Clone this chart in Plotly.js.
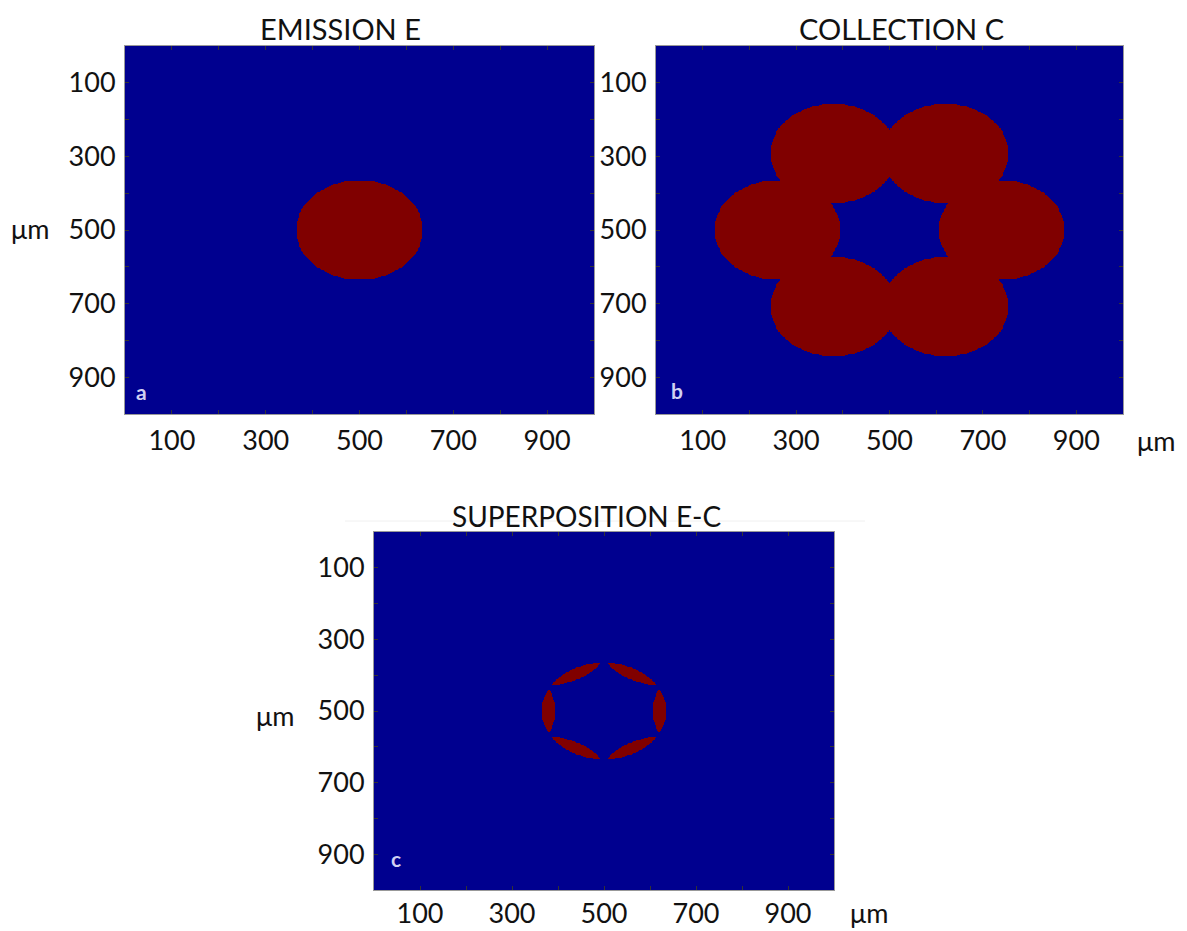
<!DOCTYPE html>
<html>
<head>
<meta charset="utf-8">
<script src="https://cdn.plot.ly/plotly-3.0.1.min.js"></script>
<style>html,body{margin:0;padding:0;background:#fff;}#chart{width:1187px;height:931px;}</style>
</head>
<body>
<div id="chart"></div>
<script>
// ---- data (µm) ----
const emitterX = [500];
const emitterY = [500];
const emitterR = 135;
const collectorX = [740, 620, 380, 260, 380, 620];
const collectorY = [500, 292, 292, 500, 708, 708];
const collectorR = 135;
const tickVals = [100, 200, 300, 400, 500, 600, 700, 800, 900];
const tickText = ['100', '', '300', '', '500', '', '700', '', '900'];
const panelTitles = ['EMISSION E', 'COLLECTION C', 'SUPERPOSITION E-C'];
const panelLetters = ['a', 'b', 'c'];
const unitLabel = 'μm';

// sampling grid of the field (µm)
const gridX = [], gridY = [];
for (let v = 1; v < 1000; v += 2) { gridX.push(v); gridY.push(v); }

function inAny(x, y, cx, cy, r) {
  for (let i = 0; i < cx.length; i++) {
    const dx = x - cx[i], dy = y - cy[i];
    if (dx * dx + dy * dy <= r * r) return true;
  }
  return false;
}
const zE = [], zC = [], zEC = [];
for (const y of gridY) {
  const rE = [], rC = [], rEC = [];
  for (const x of gridX) {
    const e = inAny(x, y, emitterX, emitterY, emitterR) ? 1 : 0;
    const c = inAny(x, y, collectorX, collectorY, collectorR) ? 1 : 0;
    rE.push(e); rC.push(c); rEC.push(e * c);
  }
  zE.push(rE); zC.push(rC); zEC.push(rEC);
}

const W = 1187, H = 931;
const px = v => v / W;
const py = v => 1 - v / H;

const cs = [[0, '#00008F'], [1, '#800000']];
function hm(z, xa, ya) {
  return {type: 'heatmap', x: gridX, y: gridY, z: z, xaxis: xa, yaxis: ya,
    colorscale: cs, zmin: 0, zmax: 1, showscale: false, zsmooth: false, hoverinfo: 'skip'};
}
const data = [hm(zE, 'x', 'y'), hm(zC, 'x2', 'y2'), hm(zEC, 'x3', 'y3')];

const FONT = 'Lato, "Open Sans", sans-serif';
function ax(domain, isY, anchor, standoff) {
  return {
    domain: domain, anchor: anchor,
    range: isY ? [1000, 0] : [0, 1000],
    tickmode: 'array', tickvals: tickVals, ticktext: tickText,
    ticks: 'inside', ticklen: 4, tickwidth: 1, tickcolor: '#333',
    showline: true, linecolor: '#999', linewidth: 1, mirror: 'ticks',
    showgrid: false, zeroline: false,
    tickfont: {family: FONT, size: 27, color: '#111'},
    ticklabelstandoff: standoff,
    fixedrange: true
  };
}

const layout = {
  width: W, height: H,
  margin: {l: 0, r: 0, t: 0, b: 0},
  paper_bgcolor: '#fff', plot_bgcolor: '#fff',
  showlegend: false,
  xaxis: ax([px(125), px(594)], false, 'y', 3),
  yaxis: ax([py(414), py(46)], true, 'x', 3),
  xaxis2: ax([px(656), px(1123)], false, 'y2', 3),
  yaxis2: ax([py(414), py(46)], true, 'x2', 3),
  xaxis3: ax([px(374), px(834)], false, 'y3', 0),
  yaxis3: ax([py(890), py(532)], true, 'x3', 3),
  shapes: [
    {type: 'line', xref: 'paper', yref: 'paper', x0: px(345), x1: px(865), y0: py(521), y1: py(521),
     line: {color: '#f0f0f0', width: 1}, layer: 'below'}
  ],
  annotations: []
};

function note(text, x, y, size, color) {
  layout.annotations.push({
    text: text, xref: 'paper', yref: 'paper', x: px(x), y: py(y),
    xanchor: 'center', yanchor: 'middle', showarrow: false,
    font: {family: FONT, size: size, color: color}
  });
}
note(panelTitles[0], 340, 28, 29, '#111');
note(panelTitles[1], 901, 28, 29, '#111');
note(panelTitles[2], 586, 516, 28, '#111');
note(unitLabel, 30, 228, 27, '#111');
note(unitLabel, 1156, 440, 27, '#111');
note(unitLabel, 275, 715, 27, '#111');
note(unitLabel, 869, 912, 27, '#111');
note('<b>' + panelLetters[0] + '</b>', 141, 391, 21, '#d0d0f2');
note('<b>' + panelLetters[1] + '</b>', 677, 390, 21, '#d0d0f2');
note('<b>' + panelLetters[2] + '</b>', 396, 858, 21, '#d0d0f2');

Plotly.newPlot('chart', data, layout, {displayModeBar: false, staticPlot: true});
</script>
</body>
</html>
